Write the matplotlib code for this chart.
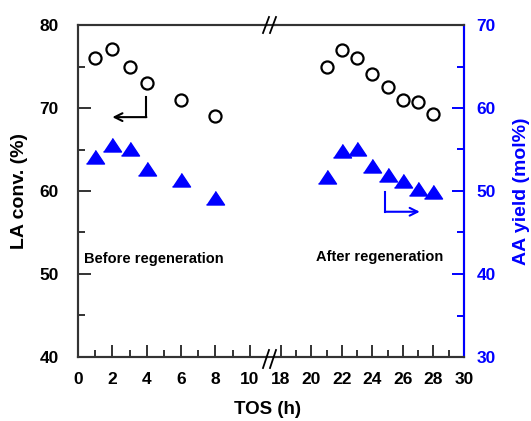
import matplotlib.pyplot as plt
from matplotlib.lines import Line2D
import numpy as np

plt.rcParams['font.family'] = ['Liberation Sans', 'DejaVu Sans']
plt.rcParams['font.weight'] = 'bold'

# Data
tos_before = [1, 2, 3, 4, 6, 8]
la_before = [76, 77.1, 75, 73, 71, 69]
aa_before = [54.1, 55.6, 55.0, 52.7, 51.3, 49.1]

tos_after = [21, 22, 23, 24, 25, 26, 27, 28]
la_after = [75, 77, 76, 74.1, 72.5, 71, 70.7, 69.3]
aa_after = [51.7, 54.8, 55.0, 53.0, 51.9, 51.2, 50.3, 49.9]

W, H = 531, 421
fig = plt.figure(figsize=(W / 100, H / 100), dpi=100)

def fx(px):
    return px / W

def fy(py):
    return 1 - py / H

spine_col = '#333333'
tri = [(-1, -0.72), (1, -0.72), (0, 0.78)]

bottom, top = fy(357), fy(25)
ax1 = fig.add_axes([fx(78), bottom, fx(267) - fx(78), top - bottom])
ax2 = fig.add_axes([fx(274), bottom, fx(464) - fx(274), top - bottom])
ax1b = ax1.twinx()
ax2b = ax2.twinx()

ax1.set_xlim(0, 11)
ax2.set_xlim(17.55, 30)
for a in (ax1, ax2):
    a.set_ylim(40, 80)
for a in (ax1b, ax2b):
    a.set_ylim(30, 70)

ax1.plot(tos_before, la_before, 'o', ms=8.7, mfc='none', mec='black', mew=1.6)
ax2.plot(tos_after, la_after, 'o', ms=8.7, mfc='none', mec='black', mew=1.6)
ax1b.plot(tos_before, aa_before, linestyle='none', marker=tri, ms=13, color='#0000ff')
ax2b.plot(tos_after, aa_after, linestyle='none', marker=tri, ms=13, color='#0000ff')

# spines
for a in (ax1, ax2, ax1b, ax2b):
    for s in a.spines.values():
        s.set_linewidth(1.5)
        s.set_color(spine_col)
ax1.spines['right'].set_visible(False)
ax1b.spines['right'].set_visible(False)
ax2.spines['left'].set_visible(False)
ax2b.spines['left'].set_visible(False)
ax2b.spines['right'].set_color('#0000ff')

# ticks
ax1.set_xticks([0, 2, 4, 6, 8, 10])
ax1.set_xticks([1, 3, 5, 7, 9], minor=True)
ax2.set_xticks([18, 20, 22, 24, 26, 28, 30])
ax2.set_xticks([19, 21, 23, 25, 27, 29], minor=True)
ax1.set_yticks([40, 50, 60, 70, 80])
ax1.set_yticks([45, 55, 65, 75], minor=True)
ax2b.set_yticks([30, 40, 50, 60, 70])
ax2b.set_yticks([35, 45, 55, 65], minor=True)

for a in (ax1, ax2):
    a.tick_params(axis='x', which='major', direction='in', length=9, width=1.4,
                  color=spine_col, labelsize=12.5, pad=11, top=False)
    a.tick_params(axis='x', which='minor', direction='in', length=5, width=1.4,
                  color=spine_col, top=False)
ax1.tick_params(axis='y', which='major', direction='in', length=9, width=1.4,
                color=spine_col, labelsize=12.5, pad=14, right=False)
ax1.tick_params(axis='y', which='minor', direction='in', length=5, width=1.4,
                color=spine_col, right=False)
ax2.tick_params(axis='y', left=False, labelleft=False, which='both')
ax1b.tick_params(axis='y', right=False, labelright=False, which='both')
ax2b.tick_params(axis='y', which='major', direction='in', length=9, width=1.4,
                 color='#0000ff', labelcolor='#0000ff', labelsize=12.5, pad=9)
ax2b.tick_params(axis='y', which='minor', direction='in', length=5, width=1.4,
                 color='#0000ff')

# arrows
ax1.plot([3.95, 3.95], [71.3, 68.9], color='black', lw=1.5)
ax1.annotate('', xy=(2.0, 68.9), xytext=(3.98, 68.9),
             arrowprops=dict(arrowstyle='->', color='black', lw=1.5,
                             shrinkA=0, shrinkB=0, mutation_scale=14))
ax2b.plot([24.85, 24.85], [49.9, 47.5], color='#0000ff', lw=1.5)
ax2b.annotate('', xy=(27.1, 47.5), xytext=(24.82, 47.5),
              arrowprops=dict(arrowstyle='->', color='#0000ff', lw=1.5,
                              shrinkA=0, shrinkB=0, mutation_scale=14))

ax1.text(0.35, 51.8, 'Before regeneration', fontsize=10.5, va='center', ha='left')
ax2.text(20.28, 52.05, 'After regeneration', fontsize=10.5, va='center', ha='left')

# axis break: bridge the gap and draw the slashes
for py in (25, 357):
    fig.add_artist(Line2D([fx(266), fx(275)], [fy(py), fy(py)], color=spine_col, lw=1.5))
for x0 in (266, 273):
    fig.add_artist(Line2D([fx(x0 - 3), fx(x0 + 3)], [fy(33), fy(17)], color='black', lw=1.3))
    fig.add_artist(Line2D([fx(x0 - 3), fx(x0 + 3)], [fy(368), fy(350)], color='black', lw=1.3))

fig.text(fx(268), fy(410), 'TOS (h)', fontsize=13.5, ha='center', va='center')
fig.text(fx(20), fy(191), 'LA conv. (%)', fontsize=14, ha='center', va='center', rotation=90)
fig.text(fx(521), fy(191), 'AA yield (mol%)', fontsize=14, ha='center', va='center',
         rotation=90, color='#0000ff')

fig.savefig('out.png', dpi=100)
